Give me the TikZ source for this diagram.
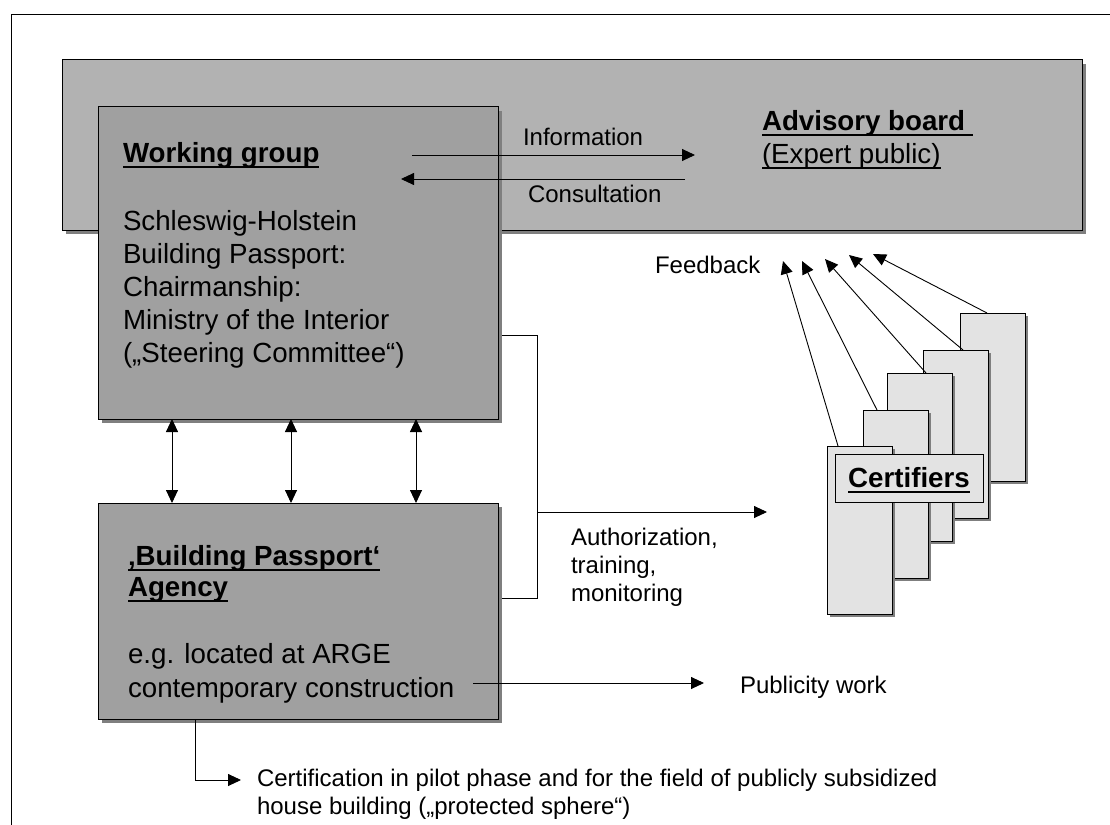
\documentclass[tikz,border=0pt]{standalone}
\usepackage{fontspec}
\setmainfont{Liberation Sans}
\usetikzlibrary{arrows.meta}
\definecolor{advfill}{HTML}{B2B2B2}
\definecolor{wgfill}{HTML}{A0A0A0}
\definecolor{shadowc}{HTML}{7F7F7F}
\definecolor{certfill}{HTML}{E3E3E3}
\newcommand{\ulb}[1]{\setbox0=\hbox{#1}\rlap{\rule[-6pt]{\wd0}{2pt}}\box0}
\newcommand{\ulr}[1]{\setbox0=\hbox{#1}\rlap{\rule[-5.5pt]{\wd0}{1.5pt}}\box0}
\begin{document}
\begin{tikzpicture}[x=1pt,y=-1pt,
  bigfont/.style={font=\fontsize{27.7pt}{33pt}\selectfont},
  lblfont/.style={font=\fontsize{24pt}{28pt}\selectfont},
  txt/.style={inner sep=0pt, outer sep=0pt, anchor=base west},
  panel/.style={draw=black, line width=1pt, anchor=north west, inner sep=0pt, outer sep=0pt,
    preaction={fill=shadowc, transform canvas={xshift=4pt, yshift=-4pt}}},
  certbox/.style={draw=black, line width=1pt, anchor=north west, inner sep=0pt, outer sep=0pt,
    fill=certfill, minimum width=65pt, minimum height=168pt,
    preaction={fill=shadowc, transform canvas={xshift=3pt, yshift=-3pt}}},
  conn/.style={line width=0.9pt, draw=black},
  arr/.style={conn, -{Triangle[length=13pt,width=12pt]}},
  dblarr/.style={conn, {Triangle[length=13pt,width=12pt]}-{Triangle[length=13pt,width=12pt]}}
]
\useasboundingbox (0,0) rectangle (1110,824);
\fill[white] (0,0) rectangle (1110,824);
% outer frame
\draw[line width=1pt] (11,15) rectangle (1130,845);

% advisory board panel
\node[panel, fill=advfill, minimum width=1020pt, minimum height=170pt] (adv) at (62,60) {};

% working group and agency
\node[panel, fill=wgfill, minimum width=400pt, minimum height=312pt] (wg) at (98,107) {};
\node[panel, fill=wgfill, minimum width=400pt, minimum height=216pt] (ag) at (98,503) {};

% certifier stack
\node[certbox] (c5) at (960,313) {};
\node[certbox] (c4) at (923,350) {};
\node[certbox] (c3) at (887,373) {};
\node[certbox] (c2) at (863,410) {};
\node[certbox] (c1) at (827,446) {};
\node[draw=black, line width=1pt, fill=certfill, anchor=north west, inner sep=0pt,
      minimum width=148pt, minimum height=48pt] (certlbl) at (835,454) {};
\node[txt, anchor=base, bigfont] (certT) at (909,487) {\bfseries\ulb{Certifiers}};

% texts: working group
\node[txt, bigfont] (wgT) at (123,162) {\bfseries\ulb{Working group}};
\node[txt, bigfont] (wg1) at (123,230) {Schleswig-Holstein};
\node[txt, bigfont] (wg2) at (123,263) {Building Passport:};
\node[txt, bigfont] (wg3) at (123,296) {Chairmanship:};
\node[txt, bigfont] (wg4) at (123,329) {Ministry of the Interior};
\node[txt, bigfont] (wg5) at (123,362) {(„Steering Committee“)};

% texts: agency
\node[txt, bigfont] (agT1) at (128,565) {\bfseries\ulb{‚Building Passport‘}};
\node[txt, bigfont] (agT2) at (128,596) {\bfseries\ulb{Agency}};
\node[txt, bigfont] (ag1) at (128,663) {e.g. located at ARGE};
\node[txt, bigfont] (ag2) at (128,697) {contemporary construction};

% texts: advisory
\node[txt, bigfont] (advT) at (762,130) {\bfseries\ulb{Advisory board\ }};
\node[txt, bigfont] (adv1) at (762,163) {\ulr{(Expert public)}};

% information / consultation
\coordinate (infoS) at (412,155);
\coordinate (infoE) at (695,155);
\coordinate (consS) at (685,179);
\coordinate (consE) at (401,179);
\draw[arr] (infoS) -- (infoE);
\draw[arr] (consS) -- (consE);
\node[txt, lblfont] (infoL) at (523,146) {Information};
\node[txt, lblfont] (consL) at (528,202) {Consultation};

% working group <-> agency
\draw[dblarr] ([xshift=74pt]wg.south west) -- ([xshift=74pt]ag.north west);
\draw[dblarr] ([xshift=193pt]wg.south west) -- ([xshift=193pt]ag.north west);
\draw[dblarr] ([xshift=318pt]wg.south west) -- ([xshift=318pt]ag.north west);

% authorization bracket
\coordinate (bTop) at (537,335);
\coordinate (bBot) at (537,598);
\coordinate (bMid) at (537,512);
\coordinate (authE) at (767,512);
\draw[conn] ([xshift=4pt]wg.east |- bTop) -- (bTop) -- (bBot) -- ([xshift=4pt]ag.east |- bBot);
\draw[arr] (bMid) -- (authE);
\node[txt, lblfont] (au1) at (571,545) {Authorization,};
\node[txt, lblfont] (au2) at (571,573) {training,};
\node[txt, lblfont] (au3) at (571,601) {monitoring};

% publicity
\coordinate (pubS) at (473,683);
\coordinate (pubE) at (704,683);
\draw[arr] (pubS) -- (pubE);
\node[txt, lblfont] (pubL) at (740,693) {Publicity work};

% certification
\coordinate (cfE) at (241,780);
\draw[arr] ([xshift=97pt]ag.south west) -- ([xshift=97pt]ag.south west |- cfE) -- (cfE);
\node[txt, lblfont] (cf1) at (257,786) {Certification in pilot phase and for the field of publicly subsidized};
\node[txt, lblfont] (cf2) at (257,814) {house building („protected sphere“)};

% feedback
\node[txt, lblfont] (fbL) at (655,273) {Feedback};
\coordinate (f1) at (783,261);
\coordinate (f2) at (802,261);
\coordinate (f3) at (825,259);
\coordinate (f4) at (849,255);
\coordinate (f5) at (873,254);
\draw[arr] ([xshift=11pt]c1.north west) -- (f1);
\draw[arr] ([xshift=14pt]c2.north west) -- (f2);
\draw[arr] ([xshift=39pt]c3.north west) -- (f3);
\draw[arr] ([xshift=40pt]c4.north west) -- (f4);
\draw[arr] ([xshift=27pt]c5.north west) -- (f5);
\end{tikzpicture}
\end{document}
